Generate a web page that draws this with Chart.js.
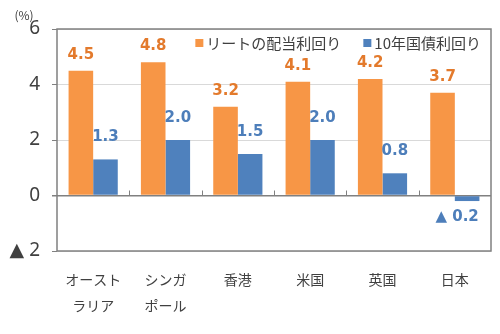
<!DOCTYPE html>
<html>
<head>
<meta charset="utf-8">
<script src="https://cdn.jsdelivr.net/npm/chart.js@4"></script>
<style>
  html, body { margin: 0; padding: 0; background: #fff; }
  #wrap { width: 500px; height: 334px; }
</style>
</head>
<body>
<div id="wrap"><canvas id="chartCanvas"></canvas></div>
<script>
const categories = [['オースト', 'ラリア'], ['シンガ', 'ポール'], '香港', '米国', '英国', '日本'];
const reitYield = [4.5, 4.8, 3.2, 4.1, 4.2, 3.7];
const bondYield = [1.3, 2.0, 1.5, 2.0, 0.8, -0.2];
const seriesNames = ['リートの配当利回り', '10年国債利回り'];
const yTicks = [-2, 0, 2, 4, 6];

const JP = "'Noto Sans CJK JP', 'Noto Sans', sans-serif";
const fmt = v => (v < 0 ? '▲ ' + Math.abs(v).toFixed(1) : v.toFixed(1));

// frame, unit label, small category ticks, legend, value labels
const decor = {
  id: 'decor',
  afterDraw(chart) {
    const { ctx, chartArea: a, scales } = chart;
    const zero = scales.y.getPixelForValue(0);
    ctx.save();
    ctx.strokeStyle = '#808080';
    ctx.lineWidth = 1.5;
    ctx.strokeRect(a.left, a.top, a.right - a.left, a.bottom - a.top);
    ctx.lineWidth = 1;
    for (let i = 1; i < categories.length; i++) {
      const x = Math.round(scales.x.getPixelForValue(i - 0.5)) + 0.5;
      ctx.beginPath();
      ctx.moveTo(x, zero);
      ctx.lineTo(x, zero - 5);
      ctx.stroke();
    }
    ctx.fillStyle = '#404040';
    ctx.font = '12px ' + JP;
    ctx.textAlign = 'center';
    ctx.textBaseline = 'middle';
    ctx.fillText('(%)', 24, 15);

    // legend, right aligned inside the plot frame
    ctx.font = '15px ' + JP;
    ctx.textAlign = 'left';
    const ly = a.top + 14;
    let lx = a.right - 10;
    for (let di = chart.data.datasets.length - 1; di >= 0; di--) {
      const ds = chart.data.datasets[di];
      const w = ctx.measureText(ds.label).width;
      lx -= w;
      ctx.fillStyle = '#404040';
      ctx.fillText(ds.label, lx, ly);
      lx -= 11;
      ctx.fillStyle = ds.backgroundColor;
      ctx.fillRect(lx, ly - 4, 8, 8);
      lx -= 22;
    }

    ctx.textAlign = 'center';
    ctx.font = "bold 15px 'DejaVu Sans', sans-serif";
    const offsets = [16, 22];
    const colors = ['#E37A2C', '#4D7EBA'];
    chart.data.datasets.forEach((ds, di) => {
      chart.getDatasetMeta(di).data.forEach((bar, i) => {
        const v = ds.data[i];
        ctx.fillStyle = colors[di];
        const y = v >= 0 ? bar.y - offsets[di] : bar.y + 16;
        const x = v >= 0 ? bar.x : bar.x - 10;
        ctx.fillText(fmt(v), x, y);
      });
    });
    ctx.restore();
  }
};

new Chart(document.getElementById('chartCanvas'), {
  type: 'bar',
  data: {
    labels: categories,
    datasets: [
      { label: seriesNames[0], data: reitYield, backgroundColor: '#F79646' },
      { label: seriesNames[1], data: bondYield, backgroundColor: '#4F81BD' }
    ]
  },
  options: {
    responsive: true,
    maintainAspectRatio: false,
    animation: false,
    layout: { padding: { top: 29, right: 9, bottom: 0, left: 0 } },
    datasets: { bar: { categoryPercentage: 0.68, barPercentage: 1.0 } },
    plugins: {
      tooltip: { enabled: false },
      legend: { display: false }
    },
    scales: {
      x: {
        grid: { display: false },
        border: { display: false },
        ticks: {
          color: '#404040',
          font: { family: JP, size: 14, lineHeight: 1.85 },
          padding: 8,
          maxRotation: 0,
          autoSkip: false
        },
        afterFit: s => { s.height = 83; }
      },
      y: {
        min: -2,
        max: 6,
        afterBuildTicks: s => { s.ticks = yTicks.map(v => ({ value: v })); },
        grid: {
          color: c => (c.tick.value === 0 ? '#808080' : '#D9D9D9'),
          lineWidth: c => (c.tick.value === 0 ? 1.5 : 1),
          drawTicks: true,
          tickLength: 5,
          tickColor: '#808080'
        },
        border: { display: false },
        ticks: {
          color: '#404040',
          font: { family: "'Noto Sans', 'DejaVu Sans', sans-serif", size: 19 },
          padding: 12,
          callback: v => (v < 0 ? '▲ ' + Math.abs(v) : String(v))
        },
        afterFit: s => { s.width = 57; }
      }
    }
  },
  plugins: [decor]
});
</script>
</body>
</html>
